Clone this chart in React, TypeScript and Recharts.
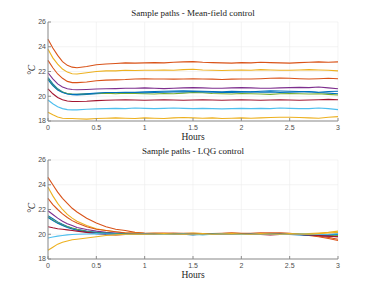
import React from 'react';
import { LineChart, Line, XAxis, YAxis, CartesianGrid } from 'recharts';

// hours
const hours = [0, 0.05, 0.1, 0.15, 0.2, 0.25, 0.3, 0.4, 0.5, 0.6, 0.7, 0.8, 0.9, 1, 1.1, 1.2, 1.3, 1.4, 1.5, 1.6, 1.7, 1.8, 1.9, 2, 2.1, 2.2, 2.3, 2.4, 2.5, 2.6, 2.7, 2.8, 2.9, 3];

const xTicks = [0, 0.5, 1, 1.5, 2, 2.5, 3];
const yTicks = [18, 20, 22, 24, 26];

// matlab default order
const PATH_COLORS = ['#D95319', '#EDB120', '#D95319', '#7E2F8E', '#0072BD', '#77AC30', '#0072BD', '#A2142F', '#4DBEEE', '#EDB120'];

// mean-field control paths
const mfOrangeA = [24.6, 23.9, 23.3, 22.8, 22.5, 22.35, 22.3, 22.4, 22.55, 22.6, 22.65, 22.7, 22.68, 22.7, 22.72, 22.7, 22.75, 22.78, 22.8, 22.75, 22.72, 22.7, 22.68, 22.72, 22.7, 22.75, 22.72, 22.7, 22.68, 22.72, 22.75, 22.78, 22.75, 22.78];
const mfYellowA = [23.8, 23.1, 22.6, 22.2, 21.95, 21.82, 21.8, 21.9, 22.0, 22.05, 22.05, 22.1, 22.08, 22.1, 22.1, 22.12, 22.1, 22.15, 22.18, 22.12, 22.1, 22.08, 22.1, 22.12, 22.1, 22.15, 22.12, 22.1, 22.1, 22.12, 22.15, 22.12, 22.1, 22.05];
const mfOrangeB = [22.9, 22.3, 21.8, 21.45, 21.2, 21.1, 21.1, 21.15, 21.25, 21.3, 21.32, 21.35, 21.4, 21.42, 21.4, 21.4, 21.38, 21.4, 21.42, 21.4, 21.38, 21.35, 21.38, 21.4, 21.4, 21.42, 21.45, 21.48, 21.45, 21.42, 21.4, 21.42, 21.45, 21.42];
const mfPurple = [21.9, 21.4, 21.0, 20.75, 20.6, 20.55, 20.52, 20.55, 20.58, 20.6, 20.62, 20.65, 20.65, 20.68, 20.65, 20.62, 20.65, 20.68, 20.7, 20.68, 20.65, 20.65, 20.68, 20.7, 20.68, 20.65, 20.65, 20.68, 20.7, 20.72, 20.7, 20.75, 20.68, 20.6];
const mfBlueA = [21.5, 21.0, 20.6, 20.35, 20.2, 20.12, 20.1, 20.15, 20.2, 20.25, 20.28, 20.3, 20.32, 20.35, 20.38, 20.4, 20.42, 20.45, 20.42, 20.4, 20.38, 20.35, 20.4, 20.38, 20.35, 20.32, 20.35, 20.3, 20.32, 20.35, 20.38, 20.3, 20.25, 20.2];
const mfGreen = [21.4, 20.9, 20.55, 20.35, 20.22, 20.18, 20.15, 20.2, 20.22, 20.25, 20.2, 20.25, 20.22, 20.2, 20.18, 20.22, 20.2, 20.25, 20.3, 20.28, 20.22, 20.2, 20.18, 20.22, 20.2, 20.18, 20.15, 20.2, 20.22, 20.2, 20.18, 20.2, 20.15, 20.1];
const mfBlueB = [21.35, 20.85, 20.5, 20.3, 20.18, 20.15, 20.15, 20.2, 20.25, 20.3, 20.3, 20.32, 20.3, 20.28, 20.3, 20.32, 20.35, 20.35, 20.38, 20.35, 20.32, 20.3, 20.3, 20.32, 20.35, 20.4, 20.45, 20.42, 20.4, 20.38, 20.35, 20.32, 20.38, 20.4];
const mfDarkRed = [20.6, 20.2, 19.9, 19.72, 19.62, 19.58, 19.58, 19.6, 19.65, 19.68, 19.7, 19.72, 19.7, 19.68, 19.7, 19.72, 19.7, 19.68, 19.7, 19.72, 19.7, 19.68, 19.7, 19.72, 19.7, 19.68, 19.7, 19.72, 19.7, 19.68, 19.7, 19.72, 19.75, 19.72];
const mfLightBlue = [19.7, 19.4, 19.15, 19.0, 18.92, 18.9, 18.9, 18.95, 18.98, 19.0, 19.02, 19.0, 19.05, 19.02, 19.0, 19.02, 19.05, 19.02, 19.0, 19.02, 19.0, 18.98, 19.0, 19.02, 19.0, 19.02, 19.0, 19.05, 19.02, 19.0, 19.0, 19.05, 19.0, 18.92];
const mfYellowB = [18.7, 18.5, 18.32, 18.22, 18.2, 18.2, 18.18, 18.15, 18.2, 18.22, 18.25, 18.22, 18.2, 18.25, 18.22, 18.2, 18.25, 18.28, 18.25, 18.22, 18.25, 18.2, 18.22, 18.25, 18.22, 18.25, 18.28, 18.3, 18.3, 18.28, 18.25, 18.22, 18.3, 18.35];

// LQG control paths
const lqOrangeA = [24.6, 24.0, 23.4, 22.9, 22.5, 22.1, 21.8, 21.3, 20.9, 20.6, 20.4, 20.3, 20.15, 20.1, 20.08, 20.05, 20.1, 20.05, 20.08, 20.05, 20.02, 20.05, 20.1, 20.08, 20.05, 20.1, 20.12, 20.1, 20.05, 20.0, 19.9, 19.8, 19.65, 19.5];
const lqYellowA = [23.8, 23.1, 22.5, 22.0, 21.6, 21.3, 21.05, 20.7, 20.45, 20.3, 20.2, 20.12, 20.1, 20.05, 20.08, 20.05, 20.02, 20.05, 20.1, 20.05, 20.02, 20.05, 20.08, 20.05, 20.0, 20.05, 20.02, 20.05, 20.0, 20.0, 20.05, 20.1, 20.15, 20.25];
const lqOrangeB = [22.9, 22.4, 22.0, 21.65, 21.35, 21.1, 20.9, 20.6, 20.4, 20.3, 20.2, 20.1, 20.1, 20.05, 20.08, 20.1, 20.05, 20.08, 20.05, 20.02, 20.05, 20.08, 20.1, 20.05, 20.08, 20.1, 20.05, 20.1, 20.08, 20.0, 19.95, 19.85, 19.75, 19.6];
const lqPurple = [21.9, 21.6, 21.3, 21.05, 20.85, 20.7, 20.55, 20.38, 20.25, 20.15, 20.1, 20.05, 20.05, 20.02, 20.05, 20.02, 20.05, 20.0, 20.02, 20.05, 20.0, 20.02, 20.05, 20.02, 20.0, 20.05, 20.02, 20.0, 20.02, 20.0, 19.95, 19.9, 19.85, 19.8];
const lqBlueA = [21.5, 21.25, 21.0, 20.8, 20.62, 20.5, 20.4, 20.25, 20.15, 20.1, 20.05, 20.02, 20.0, 20.05, 20.02, 20.0, 19.98, 20.0, 19.95, 20.0, 20.02, 20.0, 20.05, 20.02, 20.0, 19.98, 20.02, 20.0, 20.05, 20.0, 19.95, 19.9, 19.92, 19.95];
const lqGreen = [21.4, 21.15, 20.92, 20.75, 20.6, 20.48, 20.38, 20.22, 20.12, 20.08, 20.05, 20.02, 20.0, 20.02, 20.0, 20.02, 20.05, 20.02, 20.0, 20.02, 20.05, 20.02, 20.0, 20.02, 20.0, 19.98, 20.0, 19.98, 20.0, 20.02, 20.0, 19.95, 19.92, 19.9];
const lqBlueB = [21.35, 21.1, 20.88, 20.7, 20.55, 20.42, 20.32, 20.18, 20.1, 20.05, 20.02, 20.0, 20.02, 20.0, 19.98, 20.0, 20.02, 20.0, 19.98, 20.0, 20.02, 20.0, 19.98, 20.0, 20.02, 20.0, 19.98, 20.0, 19.98, 19.95, 19.9, 19.92, 19.95, 20.0];
const lqDarkRed = [20.6, 20.52, 20.45, 20.4, 20.35, 20.3, 20.25, 20.15, 20.05, 19.98, 19.95, 19.98, 20.0, 20.02, 20.0, 20.02, 20.0, 19.98, 20.0, 20.02, 20.0, 19.98, 20.0, 20.02, 20.0, 19.98, 19.95, 19.98, 20.0, 19.98, 19.95, 19.9, 19.85, 19.8];
const lqLightBlue = [19.7, 19.78, 19.85, 19.9, 19.95, 19.98, 20.0, 20.02, 20.05, 20.02, 20.0, 19.98, 20.0, 20.02, 20.0, 19.98, 20.0, 20.02, 20.0, 19.95, 20.0, 20.02, 20.0, 19.98, 20.0, 20.02, 20.0, 19.98, 20.0, 20.02, 20.0, 19.98, 20.0, 20.05];
const lqYellowB = [18.7, 18.95, 19.2, 19.35, 19.45, 19.55, 19.6, 19.7, 19.8, 19.9, 19.95, 20.0, 20.02, 20.0, 20.02, 20.05, 20.02, 20.0, 20.02, 20.05, 20.0, 20.02, 20.05, 20.02, 20.0, 20.05, 20.02, 20.0, 20.05, 20.02, 20.0, 20.05, 20.1, 20.15];

const mfPaths = [mfOrangeA, mfYellowA, mfOrangeB, mfPurple, mfBlueA, mfGreen, mfBlueB, mfDarkRed, mfLightBlue, mfYellowB];
const lqPaths = [lqOrangeA, lqYellowA, lqOrangeB, lqPurple, lqBlueA, lqGreen, lqBlueB, lqDarkRed, lqLightBlue, lqYellowB];

function toRows(paths: number[][]) {
  return hours.map((h, i) => {
    const row: Record<string, number> = { h };
    paths.forEach((p, k) => { row[`p${k}`] = p[i]!; });
    return row;
  });
}

const W = 374;
const BOX = '#8c8c8c';
const tickStyle = { fontSize: 7, fill: '#4d4d4d', fontFamily: 'Liberation Sans, Arial, sans-serif' };
const serif = '"Liberation Serif", "DejaVu Serif", serif';

// plotTop / plotBottom are pixel rows inside the 146px panel
function Panel({ paths, title, top, plotTop, plotBottom }: { paths: number[][]; title: string; top: number; plotTop: number; plotBottom: number }) {
  const data = toRows(paths);
  const height = 146;
  const axisH = 20;
  const mid = (plotTop + plotBottom) / 2;
  return (
    <div style={{ position: 'absolute', left: 0, top, width: W, height }}>
      <div style={{ position: 'absolute', left: 48, width: 290, top: plotTop - 14, textAlign: 'center', fontFamily: serif, fontSize: 9, color: '#222' }}>
        {title}
      </div>
      <div style={{ position: 'absolute', left: 27, top: mid - 7, transform: 'rotate(-90deg)', fontFamily: serif, fontSize: 9.5, fontStyle: 'italic', color: '#222' }}>
        °C
      </div>
      <LineChart width={W} height={height} data={data} margin={{ top: plotTop, right: 36, left: 20, bottom: height - plotBottom - axisH }}>
        <CartesianGrid stroke="#ececec" strokeWidth={0.6} />
        <XAxis dataKey="h" type="number" domain={[0, 3]} ticks={xTicks} tick={tickStyle} stroke={BOX} tickSize={-3} tickMargin={7} height={axisH}
          label={{ value: 'Hours', position: 'insideBottom', offset: 1, style: { fontFamily: serif, fontSize: 9.5, fill: '#222' } }} />
        <XAxis xAxisId="top" orientation="top" dataKey="h" type="number" domain={[0, 3]} ticks={xTicks} tick={false} stroke={BOX} tickSize={-3} height={0} />
        <YAxis type="number" domain={[18, 26]} ticks={yTicks} tick={tickStyle} stroke={BOX} tickSize={-3} tickMargin={5} width={28} />
        <YAxis yAxisId="right" orientation="right" type="number" domain={[18, 26]} ticks={yTicks} tick={false} stroke={BOX} tickSize={-3} width={0} />
        {paths.map((_, k) => (
          <Line key={k} dataKey={`p${k}`} type="linear" stroke={PATH_COLORS[k]} strokeWidth={1.1} dot={false} isAnimationActive={false} />
        ))}
      </LineChart>
    </div>
  );
}

export default function App() {
  return (
    <div style={{ position: 'absolute', left: 0, top: 0, width: W, height: 291, background: '#fff', overflow: 'hidden' }}>
      <Panel paths={mfPaths} title="Sample paths - Mean-field control" top={0} plotTop={22} plotBottom={121} />
      <Panel paths={lqPaths} title="Sample paths - LQG control" top={145} plotTop={15} plotBottom={114} />
    </div>
  );
}
